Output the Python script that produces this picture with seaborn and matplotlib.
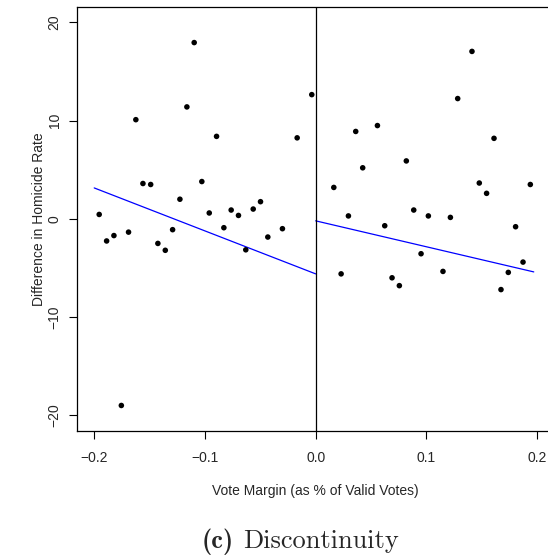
import matplotlib
matplotlib.use("Agg")
import matplotlib.pyplot as plt
import seaborn as sns
import pandas as pd

# ---- data ----
left_x = [-0.1955, -0.1888, -0.1822, -0.1755, -0.1690, -0.1624, -0.1560, -0.1490,
          -0.1425, -0.1358, -0.1292, -0.1226, -0.1163, -0.1097, -0.1028, -0.0961,
          -0.0895, -0.0829, -0.0763, -0.0697, -0.0631, -0.0564, -0.0498, -0.0432,
          -0.0300, -0.0167, -0.0035]
left_y = [0.45, -2.25, -1.7, -19.0, -1.35, 10.1, 3.6, 3.5,
          -2.5, -3.2, -1.1, 2.0, 11.4, 17.95, 3.8, 0.6,
          8.4, -0.9, 0.9, 0.35, -3.15, 1.0, 1.75, -1.85,
          -1.0, 8.25, 12.65]
right_x = [0.0164, 0.0230, 0.0296, 0.0362, 0.0425, 0.0558, 0.0624, 0.0690,
           0.0756, 0.0819, 0.0886, 0.0952, 0.1018, 0.1150, 0.1217, 0.1283,
           0.1412, 0.1478, 0.1544, 0.1611, 0.1674, 0.1740, 0.1806, 0.1873, 0.1939]
right_y = [3.2, -5.6, 0.3, 8.9, 5.2, 9.5, -0.7, -6.0,
           -6.8, 5.9, 0.9, -3.55, 0.3, -5.35, 0.15, 12.25,
           17.05, 3.65, 2.6, 8.2, -7.2, -5.45, -0.8, -4.4, 3.5]

fit_left_x = [-0.2, 0.0]
fit_left_y = [3.15, -5.6]
fit_right_x = [0.0, 0.197]
fit_right_y = [-0.2, -5.4]

x_ticks = [-0.2, -0.1, 0.0, 0.1, 0.2]
x_tick_labels = ["\u22120.2", "\u22120.1", "0.0", "0.1", "0.2"]
y_ticks = [-20, -10, 0, 10, 20]
y_tick_labels = ["\u221220", "\u221210", "0", "10", "20"]

x_label = "Vote Margin (as % of Valid Votes)"
y_label = "Difference in Homicide Rate"
caption_tag = "(c)"
caption_text = "Discontinuity"

# ---- style ----
sns.set_style("white")
plt.rcParams["font.family"] = ["Liberation Sans", "DejaVu Sans"]

pts = pd.DataFrame({
    "x": left_x + right_x,
    "y": left_y + right_y,
})
fl = pd.DataFrame({"x": fit_left_x, "y": fit_left_y})
fr = pd.DataFrame({"x": fit_right_x, "y": fit_right_y})

fig = plt.figure(figsize=(5.48, 5.56), dpi=100)
ax = fig.add_axes([0.1396, 0.2248, 0.8728, 0.7631])

sns.scatterplot(data=pts, x="x", y="y", ax=ax, color="black", s=16,
                edgecolor="none", linewidth=0, zorder=3)
sns.lineplot(data=fl, x="x", y="y", ax=ax, color="#0000FF", linewidth=0.9,
             estimator=None, sort=False)
sns.lineplot(data=fr, x="x", y="y", ax=ax, color="#0000FF", linewidth=0.9,
             estimator=None, sort=False)
ax.axvline(0, color="black", linewidth=0.9, zorder=2)

ax.set_xlim(-0.216, 0.216)
ax.set_ylim(-21.6, 21.6)

ax.set_xticks(x_ticks)
ax.set_xticklabels(x_tick_labels)
ax.set_yticks(y_ticks)
ax.set_yticklabels(y_tick_labels, rotation=90, va="center")

ax.tick_params(axis="both", which="major", length=5.8, width=0.8,
               color="black", labelsize=10, direction="out",
               bottom=True, left=True)
ax.tick_params(axis="x", pad=8.5)
ax.tick_params(axis="y", pad=5)

for sp in ax.spines.values():
    sp.set_color("black")
    sp.set_linewidth(0.9)

ax.set_xlabel(x_label, fontsize=10, labelpad=14)
ax.set_ylabel(y_label, fontsize=10, labelpad=1)

t1 = fig.text(202 / 548, 8 / 556, caption_tag, ha="left", va="baseline",
              fontsize=19, family=["cmb10", "DejaVu Serif"])
t2 = fig.text(0, 0, caption_text, ha="left", va="baseline",
              fontsize=19, family=["cmr10", "DejaVu Serif"])
# place second part right after the first
fig.canvas.draw()
r = fig.canvas.get_renderer()
bb = t1.get_window_extent(r)
x_end = bb.x1 / fig.bbox.width
t2.set_position((x_end + 9 / 548, 8 / 556))

fig.savefig("out.png", dpi=100)
